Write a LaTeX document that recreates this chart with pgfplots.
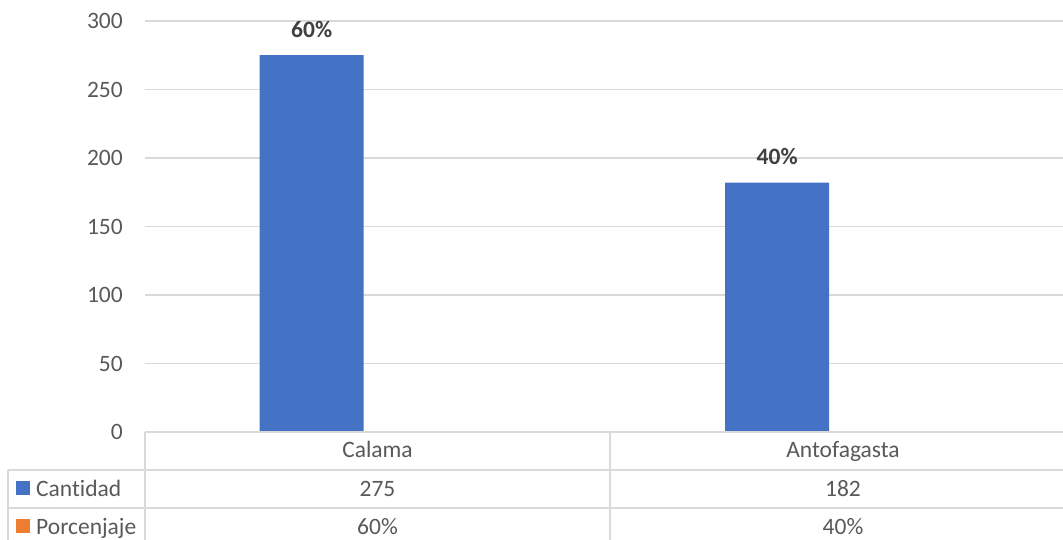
\documentclass[border=0pt]{standalone}
\usepackage{pgfplots}
\pgfplotsset{compat=1.18}
\usepackage{fontspec}
\setmainfont[Ligatures={NoCommon}]{Carlito}
\definecolor{barblue}{HTML}{4472C4}
\definecolor{barorange}{HTML}{ED7D31}
\definecolor{txt}{HTML}{595959}
\definecolor{lbl}{HTML}{404040}
\definecolor{gridgray}{HTML}{D9D9D9}

\begin{document}
\begin{tikzpicture}[x=1pt,y=1pt,font=\fontsize{23.5}{28}\selectfont]
\useasboundingbox (0,0) rectangle (1063,540);
\clip (0,0) rectangle (1063,540);
\begin{axis}[
  at={(145pt,108pt)}, anchor=south west,
  scale only axis, width=931pt, height=411pt,
  xmin=0, xmax=2, ymin=0, ymax=300,
  ytick={0,50,...,300}, xtick=\empty,
  ymajorgrids, grid style={gridgray, line width=1.3pt},
  axis line style={draw=none},
  major tick length=0pt,
  yticklabel style={text=txt, anchor=east, inner sep=0pt, xshift=-22pt},
  /pgf/number format/assume math mode=true,
  ybar, bar width=0.2234,
  nodes near coords, point meta=explicit symbolic,
  every node near coord/.append style={font=\fontsize{23.5}{28}\selectfont\bfseries,
     text=lbl, anchor=base, yshift=18pt},
  clip=false,
]
% Cantidad, with the share of each city as its label
\addplot[fill=barblue, draw=none] table[x=x, y=y, meta=lab] {
x y lab
0.358 275 60\%
1.358 182 40\%
};
\end{axis}

% data table below the plot
\begin{scope}[gridgray, line width=1.3pt]
\draw (145,108) -- (1063,108);
\draw (8,70) -- (1063,70);
\draw (8,32) -- (1063,32);
\draw (8,70) -- (8,0);
\draw (145,108) -- (145,0);
\draw (610,108) -- (610,0);
\end{scope}

\begin{scope}[every node/.style={text=txt, inner sep=0pt}]
\node[anchor=base] at (377.5,82) {Calama};
\node[anchor=base] at (843,82) {Antofagasta};
\node[anchor=base] at (377.5,43.5) {275};
\node[anchor=base] at (843,43.5) {182};
\node[anchor=base] at (377.5,5) {60\%};
\node[anchor=base] at (843,5) {40\%};
\node[anchor=base west] at (36,43.5) {Cantidad};
\node[anchor=base west] at (36,5) {Porcenjaje};
\end{scope}
\fill[barblue] (16,45) rectangle (30,59);
\fill[barorange] (16,7) rectangle (30,21);
\end{tikzpicture}
\end{document}
